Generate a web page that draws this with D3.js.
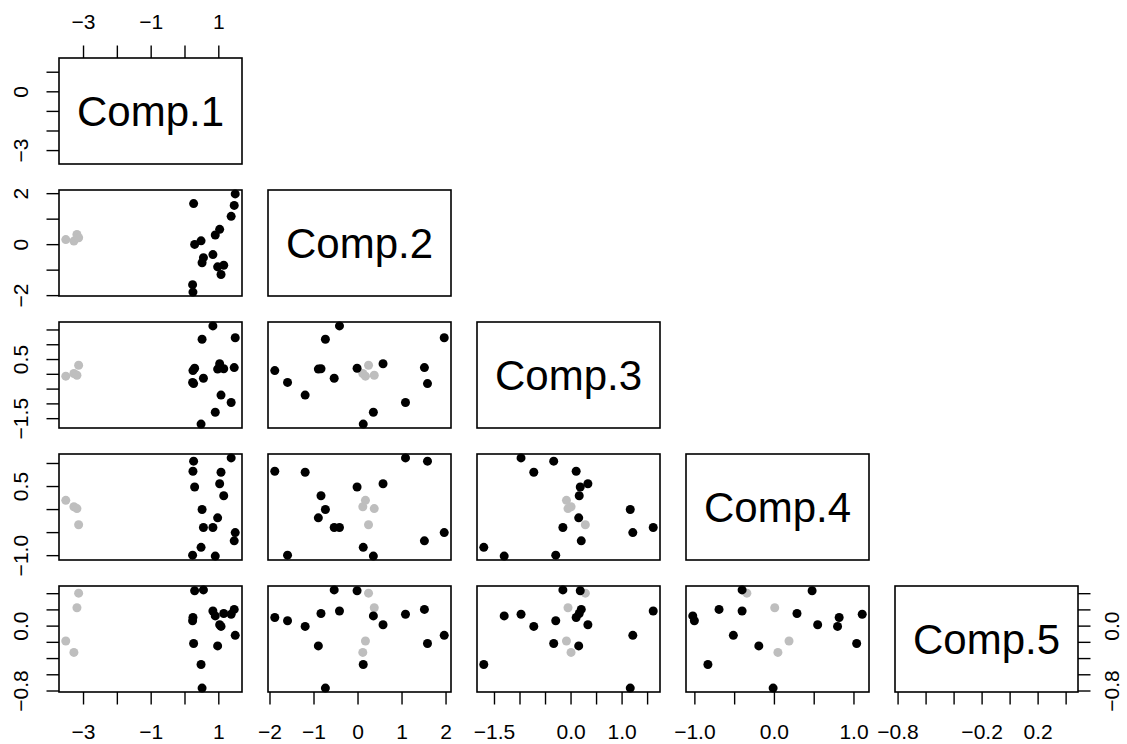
<!DOCTYPE html>
<html>
<head>
<meta charset="utf-8">
<script src="https://cdn.jsdelivr.net/npm/d3@7"></script>
<style>
	body { margin: 0; background: #fff; }
	svg text { font-family: "Liberation Sans", Arial, Helvetica, sans-serif; fill: #000; }
</style>
</head>
<body>
<svg id="chart" width="1127" height="744"></svg>
<script>
"use strict";

// scores on the five components, first four rows are the grey group
var compNames = ["Comp.1", "Comp.2", "Comp.3", "Comp.4", "Comp.5"];
var group = [2, 2, 2, 2, 1, 1, 1, 1, 1, 1, 1, 1, 1, 1, 1, 1, 1, 1, 1, 1];
var comp1 = [-3.51, -3.27, -3.18, -3.13, 0.30, 0.56, 0.25, 0.24, 0.27, 0.49, 0.52, 0.84, 0.91, 1.16, 1.38, 1.47, 1.04, 1.08, 0.98, 1.50];
var comp2 = [0.18, 0.12, 0.38, 0.25, -0.01, -0.53, -1.88, -1.59, 1.59, 0.13, -0.73, -0.41, 0.36, -0.83, 1.09, 1.52, 0.58, -1.19, -0.89, 1.97];
var comp3 = [-0.08, 0.01, -0.05, 0.29, 0.19, -0.15, 0.11, -0.29, -0.33, -1.70, 1.17, 1.62, -1.30, 0.17, -0.97, 0.21, 0.34, -0.72, 0.16, 1.22];
var comp4 = [0.19, 0.05, 0.01, -0.34, 0.48, -0.40, 0.82, -1.00, 1.04, -0.83, -0.01, -0.40, -1.02, 0.29, 1.11, -0.69, 0.55, 0.80, -0.19, -0.51];
var comp5 = [-0.19, -0.33, 0.22, 0.40, 0.43, 0.44, 0.10, 0.06, -0.22, -0.48, -0.77, 0.18, 0.12, 0.15, 0.14, 0.20, 0.01, -0.01, -0.25, -0.12];

// tick positions, and which of them carry a label on x and on y axes
var ticks1 = [-3, -2, -1, 0, 1],
	ticks2 = [-2, -1, 0, 1, 2],
	ticks3 = [-1.5, -1, -0.5, 0, 0.5, 1, 1.5],
	ticks4 = [-1, -0.5, 0, 0.5, 1],
	ticks5 = [-0.8, -0.6, -0.4, -0.2, 0, 0.2, 0.4];
var xLabels = [[-3, -1, 1], [-2, -1, 0, 1, 2], [-1.5, 0, 1], [-1, 0, 1], [-0.8, -0.2, 0.2]];
var yLabels = [[-3, 0], [-2, 0, 2], [-1.5, 0.5], [-1, 0.5], [-0.8, 0]];
var labelFormat = ["d", "d", ".1f", ".1f", ".1f"];

var comps = [comp1, comp2, comp3, comp4, comp5],
	ticks = [ticks1, ticks2, ticks3, ticks4, ticks5],
	colors = { 1: "#000000", 2: "#bebebe" };

var svg = d3.select("#chart"),
	left0 = 59, top0 = 58,
	stepX = 209, stepY = 132,
	w = 183, h = 106,
	tickLen = 12.5,
	n = comps.length;

/**
 * Data range widened by 4% each side, like R does
 * @param  {Array} v values
 * @return {Array} domain
 */
var padded = function (v) {
	var e = d3.extent(v),
		pad = (e[1] - e[0]) * 0.04;
	return [e[0] - pad, e[1] + pad];
};

var xScales = comps.map(function (v, i) {
	return d3.scaleLinear().domain(padded(v)).range([left0 + i * stepX, left0 + i * stepX + w]);
});
var yScales = comps.map(function (v, i) {
	return d3.scaleLinear().domain(padded(v)).range([top0 + i * stepY + h, top0 + i * stepY]);
});

/**
 * Build an axis with R-like ticks and sparse labels
 */
var makeAxis = function (axisFn, scale, i, labels) {
	var f = d3.format(labelFormat[i]);
	return axisFn(scale)
		.tickValues(ticks[i])
		.tickSizeInner(tickLen)
		.tickSizeOuter(0)
		.tickFormat(function (d) {
			return labels.some(function (l) { return Math.abs(l - d) < 1e-9; }) ? f(d) : "";
		});
};

var styleAxis = function (g) {
	g.select(".domain").remove();
	g.selectAll(".tick line").attr("stroke", "#000").attr("stroke-width", 1.4);
	g.selectAll(".tick text").attr("font-size", 21).attr("font-family", null).attr("fill", "#000");
};

// panels
for (var r = 0; r < n; r++) {
	for (var c = 0; c <= r; c++) {
		var px = left0 + c * stepX,
			py = top0 + r * stepY;

		if (r === c) {
			svg.append("text")
				.attr("x", px + w / 2)
				.attr("y", py + h / 2)
				.attr("text-anchor", "middle")
				.attr("dominant-baseline", "central")
				.attr("font-size", 42)
				.text(compNames[r]);
		} else {
			var xs = xScales[c], ys = yScales[r];
			svg.append("g")
				.selectAll("circle")
				.data(d3.range(group.length))
				.join("circle")
				.attr("cx", function (k) { return xs(comps[c][k]); })
				.attr("cy", function (k) { return ys(comps[r][k]); })
				.attr("r", 4.5)
				.attr("fill", function (k) { return colors[group[k]]; });
		}

		svg.append("rect")
			.attr("x", px)
			.attr("y", py)
			.attr("width", w)
			.attr("height", h)
			.attr("fill", "none")
			.attr("stroke", "#000")
			.attr("stroke-width", 1.6);
	}
}

// top axis, first column only
svg.append("g")
	.attr("transform", "translate(0," + top0 + ")")
	.call(makeAxis(d3.axisTop, xScales[0], 0, xLabels[0]))
	.call(styleAxis)
	.selectAll(".tick text")
	.attr("y", -29)
	.attr("dy", null);

// bottom axes, every column
var bottomY = top0 + (n - 1) * stepY + h;
for (var i = 0; i < n; i++) {
	svg.append("g")
		.attr("transform", "translate(0," + bottomY + ")")
		.call(makeAxis(d3.axisBottom, xScales[i], i, xLabels[i]))
		.call(styleAxis)
		.selectAll(".tick text")
		.attr("y", 47)
		.attr("dy", null);
}

// left axes, every row
for (var j = 0; j < n; j++) {
	svg.append("g")
		.attr("transform", "translate(" + left0 + ",0)")
		.call(makeAxis(d3.axisLeft, yScales[j], j, yLabels[j]))
		.call(styleAxis)
		.selectAll(".tick text")
		.attr("x", 0)
		.attr("y", -31)
		.attr("dy", null)
		.attr("text-anchor", "middle")
		.attr("transform", "rotate(-90)");
}

// right axis on the last row
svg.append("g")
	.attr("transform", "translate(" + (left0 + (n - 1) * stepX + w) + ",0)")
	.call(makeAxis(d3.axisRight, yScales[n - 1], n - 1, yLabels[n - 1]))
	.call(styleAxis)
	.selectAll(".tick text")
	.attr("x", 0)
	.attr("y", 41)
	.attr("dy", null)
	.attr("text-anchor", "middle")
	.attr("transform", "rotate(-90)");
</script>
</body>
</html>
